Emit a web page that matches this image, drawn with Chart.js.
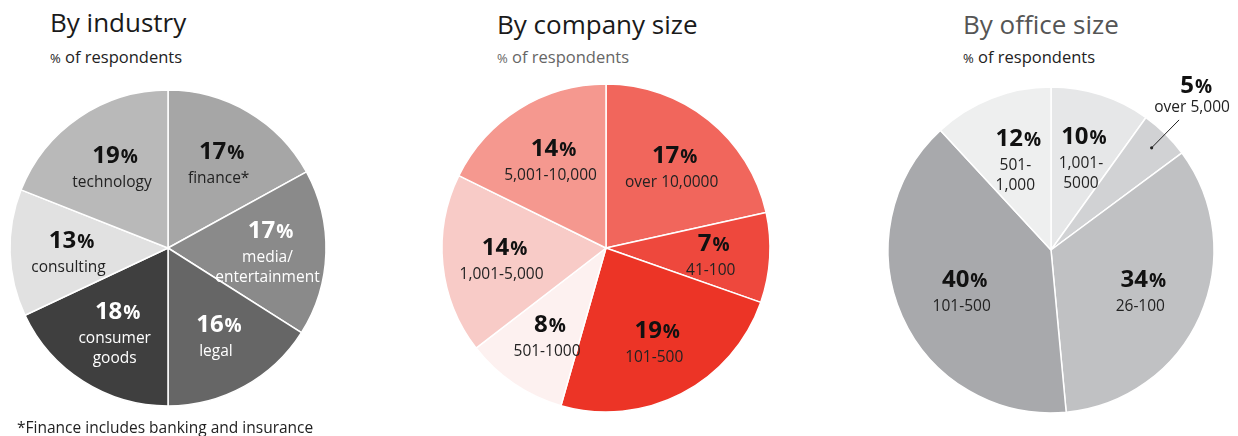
<!DOCTYPE html>
<html lang="en">
<head>
  <meta charset="UTF-8" />
  <title>Survey respondents</title>
  <script src="https://cdn.jsdelivr.net/npm/chart.js"></script>
  <style>
    body { margin: 0; background: #fff; font-family: "Open Sans", sans-serif; }
    #wrap { position: relative; width: 1238px; height: 436px; overflow: hidden; }
    .title { position: absolute; font-size: 26px; line-height: 30px; white-space: nowrap; }
    .sub { position: absolute; font-size: 16.5px; line-height: 20px; white-space: nowrap; }
    .sub small { font-size: 13px; }
    canvas { position: absolute; }
    .note { position: absolute; left: 17px; top: 416px; font-size: 15.5px; color: #222; white-space: nowrap; }
  </style>
</head>
<body>
  <div id="wrap">
    <div class="title" style="left:50px;top:7px;color:#1a1a1a">By industry</div>
    <div class="sub" style="left:50px;top:47px;color:#222"><small>%</small> of respondents</div>
    <div class="title" style="left:497px;top:9px;color:#1a1a1a">By company size</div>
    <div class="sub" style="left:497px;top:47px;color:#666"><small>%</small> of respondents</div>
    <div class="title" style="left:963px;top:9px;color:#555">By office size</div>
    <div class="sub" style="left:963px;top:47px;color:#222"><small>%</small> of respondents</div>

    <canvas id="industry" width="340" height="340" style="left:-2px;top:78px"></canvas>
    <canvas id="company" width="340" height="340" style="left:436px;top:78px"></canvas>
    <canvas id="office" width="372" height="360" style="left:873px;top:60px"></canvas>

    <div class="note">*Finance includes banking and insurance</div>
  </div>

  <script>
    // slices run clockwise from 12 o'clock
    const industryLabels = ["finance*", "media/\nentertainment", "legal", "consumer\ngoods", "consulting", "technology"];
    const industryValues = [17, 17, 16, 18, 13, 19];

    const companyLabels = ["over 10,0000", "41-100", "101-500", "501-1000", "1,001-5,000", "5,001-10,000"];
    const companyValues = [17, 7, 19, 8, 14, 14];

    const officeLabels = ["1,001-\n5000", "over 5,000", "26-100", "101-500", "501-\n1,000"];
    const officeValues = [10, 5, 34, 40, 12];

    const industryColors = ["#a6a6a6", "#8a8a8a", "#666666", "#3f3f3f", "#e1e1e1", "#b9b9b9"];
    const industryText = ["#111", "#fff", "#fff", "#fff", "#111", "#111"];
    const companyColors = ["#f1665c", "#ee483d", "#ec3426", "#fdf1f0", "#f8cbc7", "#f5988f"];
    const officeColors = ["#e6e7e8", "#d1d2d4", "#c0c1c3", "#a8a9ac", "#eeefef"];

    const FONT = '"Open Sans", sans-serif';

    // draws "NN%" (smaller % sign) centred on x
    function drawPct(ctx, value, x, y, color) {
      ctx.fillStyle = color;
      ctx.textBaseline = 'alphabetic';
      ctx.font = 'bold 24px ' + FONT;
      const num = String(value);
      const wNum = ctx.measureText(num).width;
      ctx.font = 'bold 19px ' + FONT;
      const wPct = ctx.measureText('%').width;
      const left = x - (wNum + wPct + 1) / 2;
      ctx.textAlign = 'left';
      ctx.font = 'bold 24px ' + FONT;
      ctx.fillText(num, left, y);
      ctx.font = 'bold 19px ' + FONT;
      ctx.fillText('%', left + wNum + 1, y);
    }

    const sliceLabels = {
      id: 'sliceLabels',
      afterDatasetsDraw(chart, args, opts) {
        const ctx = chart.ctx;
        const meta = chart.getDatasetMeta(0);
        const ds = chart.data.datasets[0];
        meta.data.forEach((arc, i) => {
          const p = arc.getProps(['x', 'y', 'startAngle', 'endAngle', 'outerRadius'], true);
          const mid = (p.startAngle + p.endAngle) / 2;
          const color = (opts.textColors && opts.textColors[i]) || '#111';
          const lines = chart.data.labels[i].split('\n');
          ctx.save();
          if (i === opts.callout) {
            // small slice: label outside with a leader line
            const r0 = p.outerRadius * 0.88, r1 = p.outerRadius * 1.12;
            const ax = p.x + Math.cos(mid) * r0, ay = p.y + Math.sin(mid) * r0;
            const bx = p.x + Math.cos(mid) * r1, by = p.y + Math.sin(mid) * r1;
            ctx.strokeStyle = '#222';
            ctx.lineWidth = 1;
            ctx.beginPath(); ctx.moveTo(ax, ay); ctx.lineTo(bx, by); ctx.stroke();
            ctx.fillStyle = '#222';
            ctx.beginPath(); ctx.arc(ax, ay, 1.6, 0, Math.PI * 2); ctx.fill();
            ctx.font = '15.5px ' + FONT;
            ctx.textAlign = 'center';
            ctx.fillStyle = '#222';
            ctx.fillText(lines[0], bx + 13, by - 8);
            drawPct(ctx, ds.data[i], bx + 17, by - 27, '#111');
          } else {
            const r = p.outerRadius * opts.radius;
            const cx = p.x + Math.cos(mid) * r, cy = p.y + Math.sin(mid) * r;
            const blockH = 24 + lines.length * 20;
            let y = cy - blockH / 2 + 19;
            drawPct(ctx, ds.data[i], cx + 3, y, color);
            ctx.font = '15.5px ' + FONT;
            ctx.textAlign = 'center';
            ctx.fillStyle = color === '#fff' ? '#fff' : '#222';
            lines.forEach((t, k) => { y += (k === 0 ? 24 : 20); ctx.fillText(t, cx, y); });
          }
          ctx.restore();
        });
      }
    };

    function makePie(id, labels, values, colors, radius, padding, labelOpts) {
      return new Chart(document.getElementById(id), {
        type: 'pie',
        data: {
          labels: labels,
          datasets: [{ data: values, backgroundColor: colors, borderColor: '#fff', borderWidth: 1.5 }]
        },
        options: {
          responsive: false,
          animation: false,
          radius: radius,
          layout: { padding: padding },
          events: [],
          plugins: {
            legend: { display: false },
            tooltip: { enabled: false },
            sliceLabels: labelOpts
          }
        },
        plugins: [sliceLabels]
      });
    }

    makePie('industry', industryLabels, industryValues, industryColors, 158, 0,
      { radius: 0.63, textColors: industryText });
    makePie('company', companyLabels, companyValues, companyColors, 164, 0,
      { radius: 0.64 });
    makePie('office', officeLabels, officeValues, officeColors, 163,
      { left: 0, top: 20, bottom: 0, right: 16 },
      { radius: 0.6, callout: 1 });
  </script>
</body>
</html>
